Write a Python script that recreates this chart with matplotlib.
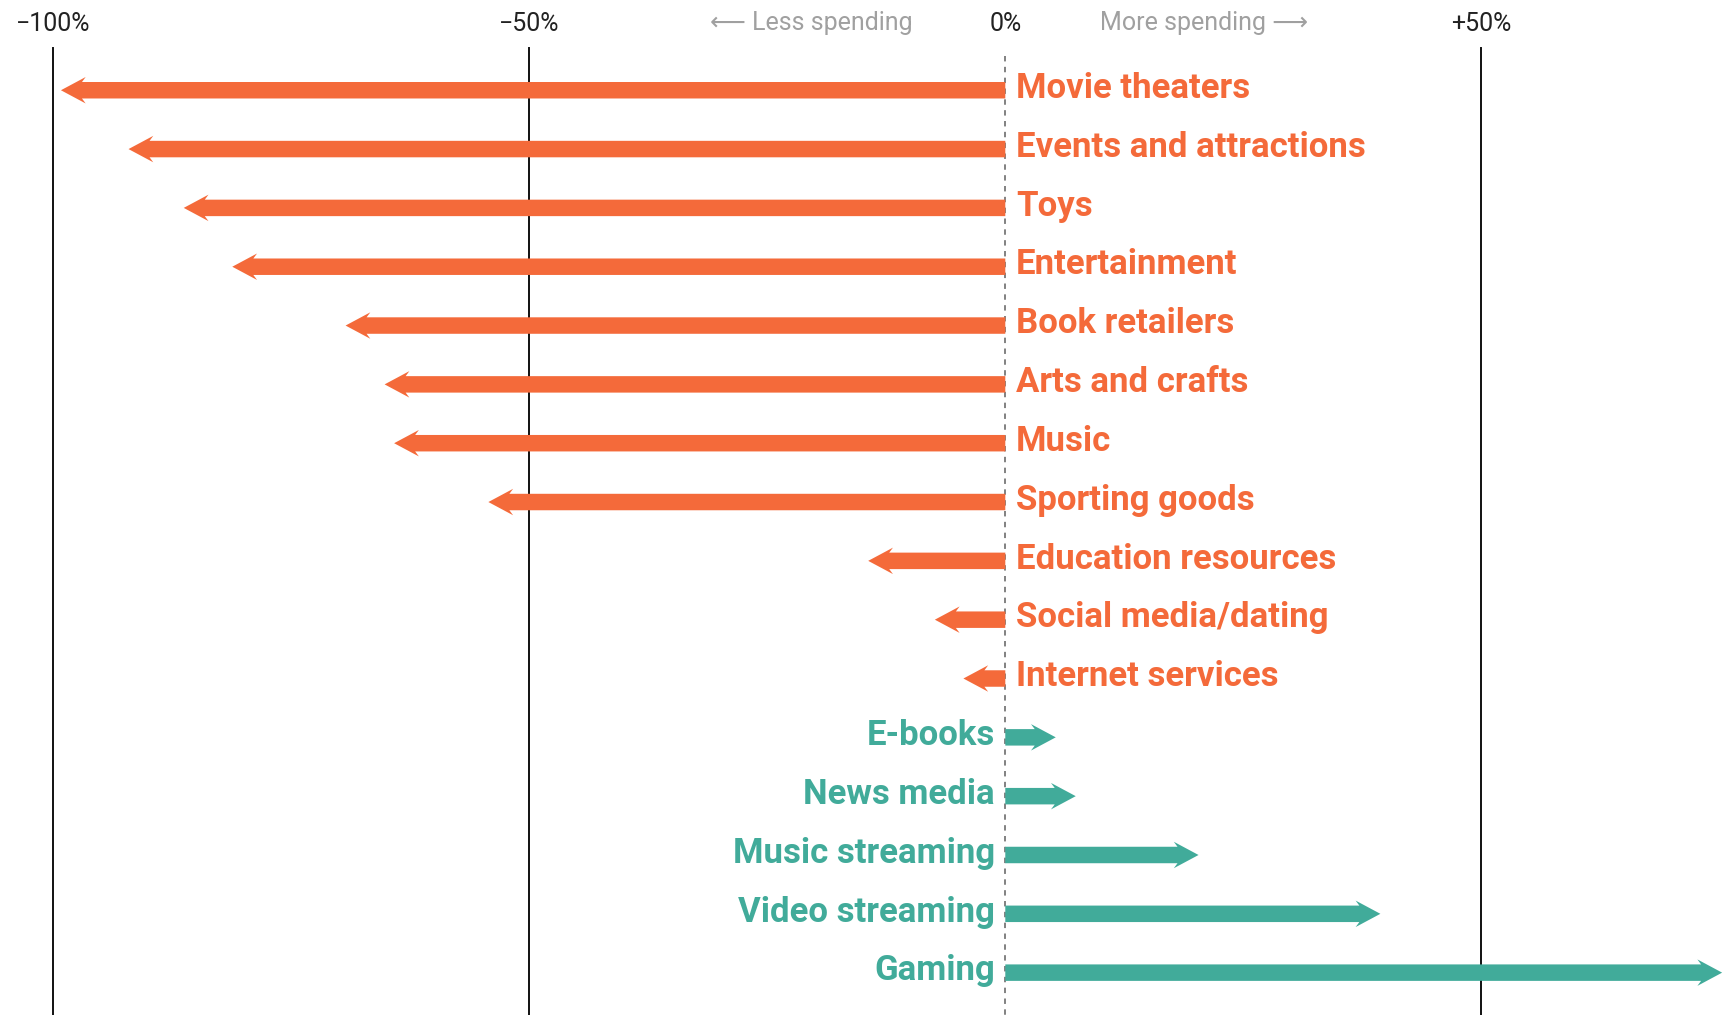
import matplotlib.pyplot as plt
from matplotlib.patches import FancyArrow

plt.rcParams['font.family'] = ['Roboto', 'DejaVu Sans']

categories = ['Movie theaters', 'Events and attractions', 'Toys', 'Entertainment',
              'Book retailers', 'Arts and crafts', 'Music', 'Sporting goods',
              'Education resources', 'Social media/dating', 'Internet services',
              'E-books', 'News media', 'Music streaming', 'Video streaming', 'Gaming']
changes = [-99.2, -92.1, -86.3, -81.2, -69.3, -65.2, -64.2, -54.3,
           -14.4, -7.4, -4.4, 5.3, 7.4, 20.3, 39.4, 75.3]
ticks = [-100, -50, 0, 50]
tick_labels = ['\u2212100%', '\u221250%', '0%', '+50%']

ORANGE = '#F46A3A'
TEAL = '#41AB9A'

fig = plt.figure(figsize=(17.25, 10.15), dpi=100)
ax = fig.add_axes([0, 0, 1, 1])
ax.set_xlim(-105.6, 75.6)
ax.set_ylim(15.72, -1.534)
ax.axis('off')

# gridlines
for t in ticks:
    if t == 0:
        ax.plot([0, 0], [-0.58, 15.72], color='#777777', lw=1.3, ls=(0, (3, 3)), zorder=1)
    else:
        ax.plot([t, t], [-0.72, 15.72], color='#111111', lw=1.4, zorder=1)

for t, lab in zip(ticks, tick_labels):
    ax.text(t, -1.13, lab, ha='center', va='center', fontsize=18, color='#222222')

ax.text(-9.7, -1.15, '\u27f5 Less spending', ha='right', va='center', fontsize=18,
        color='#a0a0a0')
ax.text(10.0, -1.15, 'More spending \u27f6', ha='left', va='center', fontsize=18,
        color='#a0a0a0')

for i, (cat, val) in enumerate(zip(categories, changes)):
    col = ORANGE if val < 0 else TEAL
    arr = FancyArrow(0, i, val, 0, width=0.28, head_width=0.45, head_length=2.6,
                     length_includes_head=True, overhang=0.15, color=col, lw=0, zorder=2)
    ax.add_patch(arr)
    if val < 0:
        ax.text(1.1, i - 0.03, cat, ha='left', va='center', fontsize=25,
                fontweight='bold', color=col)
    else:
        ax.text(-1.1, i - 0.03, cat, ha='right', va='center', fontsize=25,
                fontweight='bold', color=col)

fig.savefig('out.png', dpi=100)
plt.close(fig)
